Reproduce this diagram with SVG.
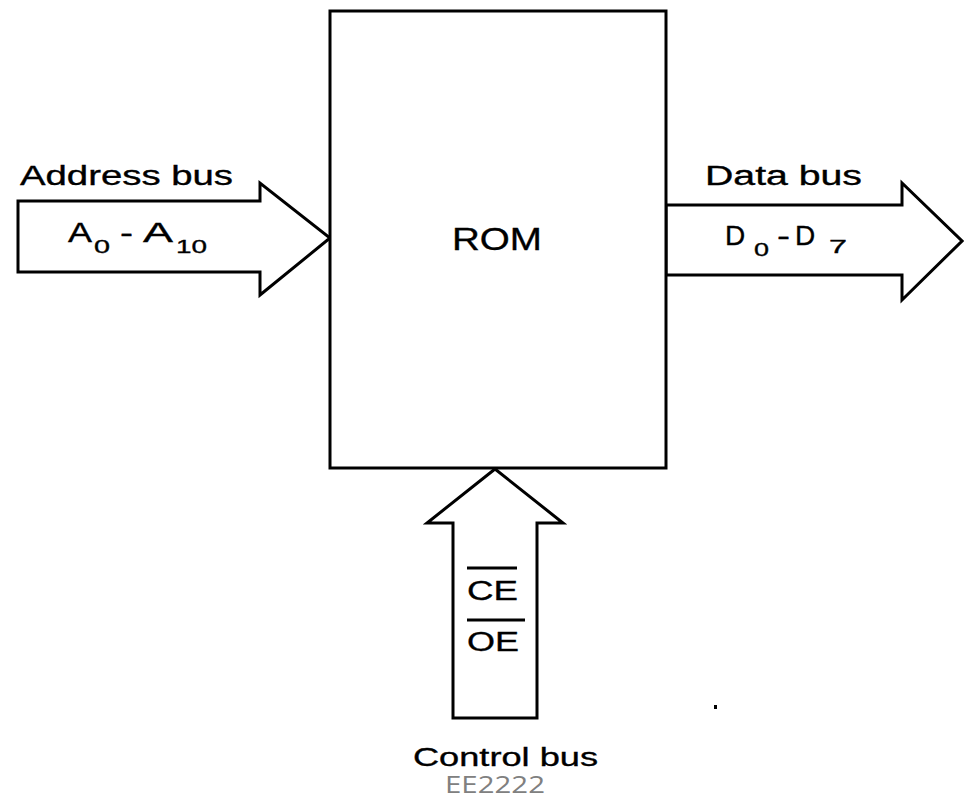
<svg xmlns="http://www.w3.org/2000/svg" width="964" height="799" viewBox="0 0 964 799">
<style>
.shape{fill:#fff;stroke:#000;stroke-width:3;stroke-linejoin:miter}
.lbl{font-family:"Liberation Sans",Arial,sans-serif;fill:#000;stroke:#000;stroke-width:0.35}
.bar{stroke:#000;stroke-width:3}
</style>
<rect width="964" height="799" fill="#fff"/>
<g id="connectors">
  <polygon id="address-bus" class="shape" points="18,201 260,201 260,183 330,238 260,295 260,272 18,272"/>
  <polygon id="data-bus" class="shape" points="666,205 902,205 902,183 962,241 902,300 902,275 666,275"/>
  <polygon id="control-bus" class="shape" points="495,469 563,523 537,523 537,718 453,718 453,523 427,523"/>
</g>
<g id="rom">
  <rect class="shape" x="330" y="11" width="336" height="457"/>
  <text class="lbl" x="452" y="250" font-size="32" textLength="90" lengthAdjust="spacingAndGlyphs">ROM</text>
</g>
<g id="address-labels">
  <text class="lbl" x="20" y="185" font-size="27" textLength="213" lengthAdjust="spacingAndGlyphs">Address bus</text>
  <text class="lbl" x="68" y="242" font-size="27" textLength="24" lengthAdjust="spacingAndGlyphs">A</text>
  <text class="lbl" x="94" y="253" font-size="19" textLength="16" lengthAdjust="spacingAndGlyphs">0</text>
  <text class="lbl" x="120" y="242" font-size="27" textLength="13" lengthAdjust="spacingAndGlyphs">-</text>
  <text class="lbl" x="143" y="242" font-size="27" textLength="30" lengthAdjust="spacingAndGlyphs">A</text>
  <text class="lbl" x="176" y="253" font-size="19" textLength="31" lengthAdjust="spacingAndGlyphs">10</text>
</g>
<g id="data-labels">
  <text class="lbl" x="705" y="185" font-size="27" textLength="157" lengthAdjust="spacingAndGlyphs">Data bus</text>
  <text class="lbl" x="725" y="245" font-size="28">D</text>
  <text class="lbl" x="754" y="256" font-size="19" textLength="15" lengthAdjust="spacingAndGlyphs">0</text>
  <text class="lbl" x="777" y="245" font-size="27" textLength="13" lengthAdjust="spacingAndGlyphs">-</text>
  <text class="lbl" x="795" y="245" font-size="28">D</text>
  <text class="lbl" x="829" y="253" font-size="19" textLength="18" lengthAdjust="spacingAndGlyphs">7</text>
</g>
<g id="control-labels">
  <line class="bar" x1="467" y1="568" x2="517" y2="568"/>
  <text class="lbl" x="467" y="600" font-size="27" textLength="51" lengthAdjust="spacingAndGlyphs">CE</text>
  <line class="bar" x1="467" y1="620" x2="525" y2="620"/>
  <text class="lbl" x="467" y="651" font-size="27" textLength="52" lengthAdjust="spacingAndGlyphs">OE</text>
  <text class="lbl" x="413" y="766" font-size="26" textLength="185" lengthAdjust="spacingAndGlyphs">Control bus</text>
</g>
<text x="445" y="793" font-family="'Open Sans','Liberation Sans',sans-serif" font-size="24" fill="#808080" textLength="100" lengthAdjust="spacingAndGlyphs">EE2222</text>
<rect x="714" y="705" width="3" height="4" fill="#000"/>
</svg>
